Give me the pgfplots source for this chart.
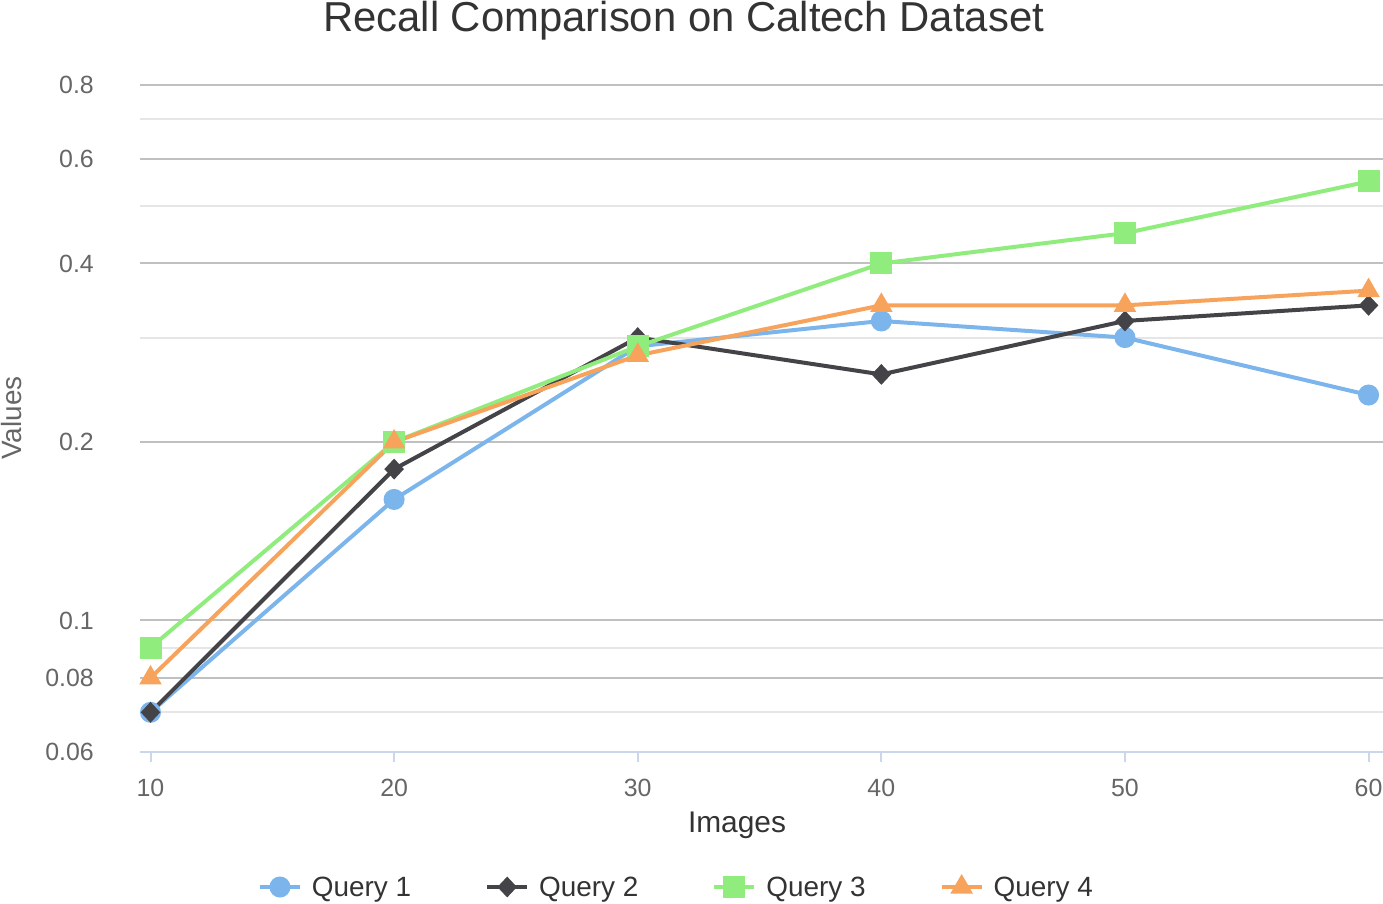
\documentclass[border=0pt]{standalone}
\usepackage{pgfplots}
\pgfplotsset{compat=1.18}
\usepackage{fontspec}
\setmainfont{Liberation Sans}
\definecolor{qblue}{HTML}{7CB5EC}
\definecolor{qdark}{HTML}{434348}
\definecolor{qgreen}{HTML}{90ED7D}
\definecolor{qorange}{HTML}{F7A35C}
\definecolor{gmaj}{HTML}{C0C0C0}
\definecolor{gmin}{HTML}{E6E6E6}
\definecolor{axc}{HTML}{CCD6EB}
\definecolor{tgray}{HTML}{666666}
\definecolor{tdark}{HTML}{333333}
\begin{document}
\begin{tikzpicture}[x=1bp,y=1bp]
\useasboundingbox (0,0) rectangle (1383,903);
\begin{axis}[
  at={(140bp,151bp)}, anchor=south west,
  scale only axis, width=1243bp, height=667bp,
  ymode=log, ymin=0.06, ymax=0.8,
  xmin=9.569, xmax=60.595,
  clip=false,
  axis x line*=bottom, axis y line*=left,
  x axis line style={draw=axc, line width=2bp, -},
  y axis line style={draw=none},
  xtick={10,20,30,40,50,60},
  tick align=outside,
  major tick length=10bp,
  xtick style={draw=axc, line width=2bp},
  ytick={0.06,0.08,0.1,0.2,0.4,0.6,0.8},
  yticklabels={0.06,0.08,0.1,0.2,0.4,0.6,0.8},
  minor ytick={0.07,0.09,0.3,0.5,0.7},
  ytick style={draw=none},
  minor tick length=0pt,
  ymajorgrids, yminorgrids,
  major grid style={draw=gmaj, line width=2bp},
  minor grid style={draw=gmin, line width=2bp},
  /pgf/number format/assume math mode=true,
  ticklabel style={font=\fontsize{25}{30}\selectfont, text=tgray, inner sep=0pt},
  yticklabel style={anchor=east, xshift=-36bp},
  xticklabel style={anchor=north, yshift=-17bp},
  title={Recall Comparison on Caltech Dataset},
  title style={at={(axis description cs:0.4373,1.0780)}, anchor=base, yshift=-5bp,
    font=\fontsize{42}{50}\selectfont, text=tdark, inner sep=0pt},
  xlabel={Images},
  xlabel style={at={(axis description cs:0.4803,-0.1094)}, anchor=center,
    font=\fontsize{30}{36}\selectfont, text=tdark, inner sep=0pt},
  ylabel={Values},
  ylabel style={at={(axis description cs:-0.103,0.5007)}, anchor=center,
    font=\fontsize{28}{34}\selectfont, text=tgray, inner sep=0pt},
  legend columns=4,
  legend style={at={(axis description cs:0.0949,-0.2024)}, anchor=west,
    draw=none, fill=none, inner sep=0pt, outer sep=0pt,
    font=\fontsize{28}{34}\selectfont, text=tdark,
    nodes={inner sep=0pt},
    /tikz/every odd column/.append style={column sep=10bp},
    /tikz/every even column/.append style={column sep=74bp}},
  legend cell align=left,
  legend image code/.code={\draw[mark repeat=2,mark phase=2,#1] plot coordinates {(0bp,0bp)(20bp,0bp)(40bp,0bp)};},
  every axis plot/.append style={line width=4bp},
]
\addplot[qblue, mark=*, mark size=8.5bp, mark options={draw=none, fill=qblue}]
  coordinates {(10,0.07)(20,0.16)(30,0.29)(40,0.32)(50,0.30)(60,0.24)};
\addlegendentry{Query 1}
\addplot[qdark, mark=diamond*, mark size=7.5bp, mark options={draw=none, fill=qdark, xscale=1.25}]
  coordinates {(10,0.07)(20,0.18)(30,0.30)(40,0.26)(50,0.32)(60,0.34)};
\addlegendentry{Query 2}
\addplot[qgreen, mark=square*, mark size=9bp, mark options={draw=none, fill=qgreen}]
  coordinates {(10,0.09)(20,0.20)(30,0.29)(40,0.40)(50,0.45)(60,0.55)};
\addlegendentry{Query 3}
\addplot[qorange, mark=triangle*, mark size=9bp, mark options={draw=none, fill=qorange}]
  coordinates {(10,0.08)(20,0.20)(30,0.28)(40,0.34)(50,0.34)(60,0.36)};
\addlegendentry{Query 4}
\end{axis}
\end{tikzpicture}
\end{document}
